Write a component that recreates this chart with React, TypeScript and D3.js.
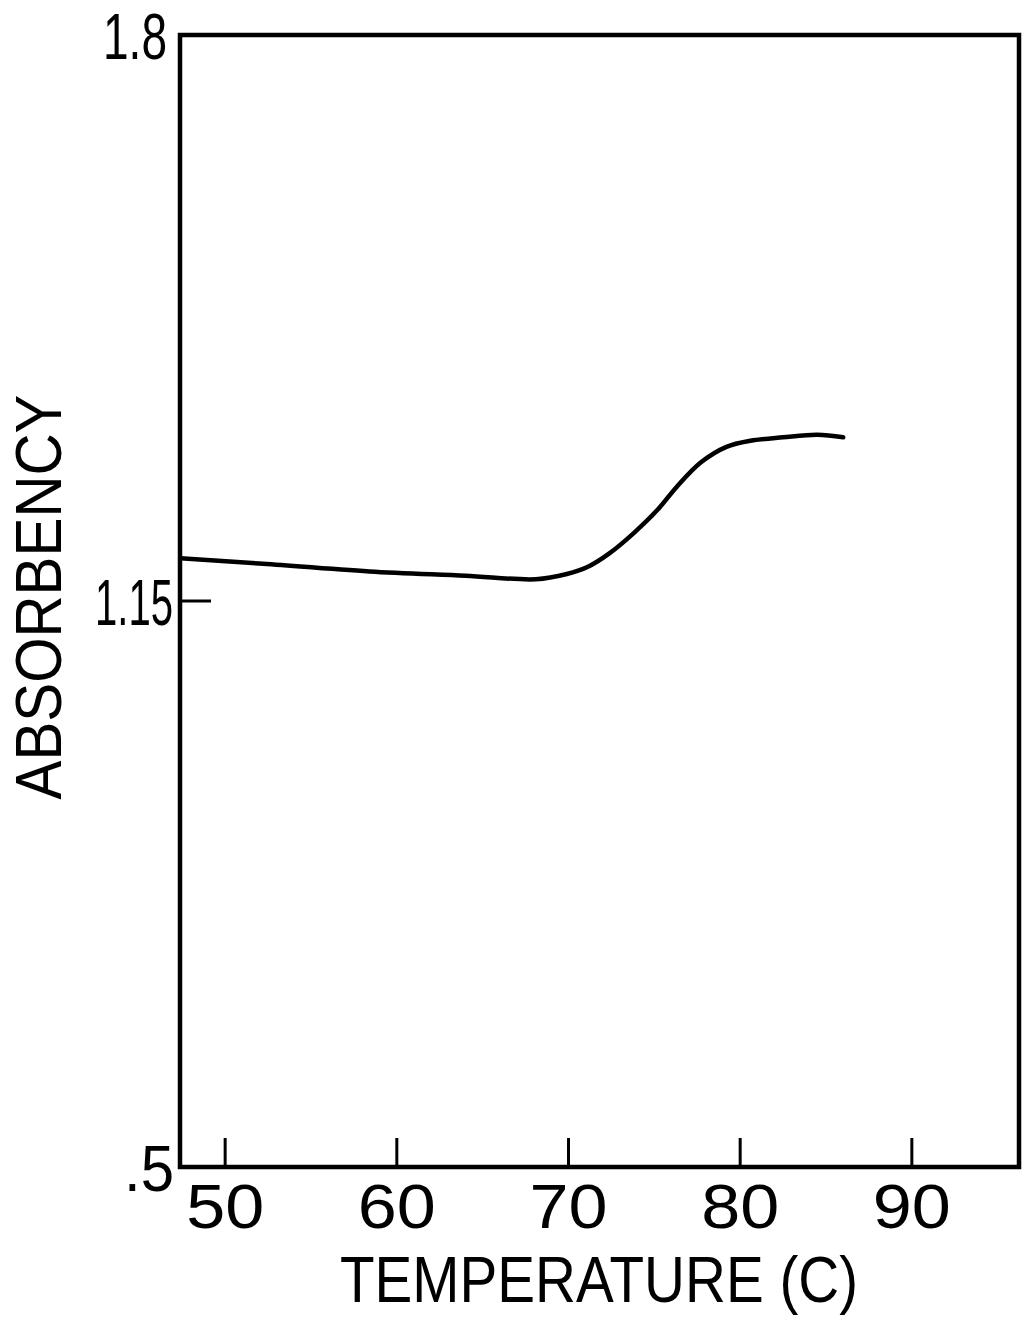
import React from "react";
import * as d3 from "d3";

// Absorbency vs temperature melting profile
const temperatures = [47.4, 52, 58.4, 64, 68.1, 69.9, 71.1, 72.4, 73.8, 75.2, 76.3, 77.7, 79.2, 80.6, 82.5, 84.5, 86.0];
const absorbency = [1.199, 1.193, 1.184, 1.179, 1.175, 1.181, 1.189, 1.205, 1.228, 1.255, 1.281, 1.309, 1.327, 1.334, 1.338, 1.341, 1.338];

const xTicks = [50, 60, 70, 80, 90];
const yTicks = [1.8, 1.15, 0.5];
const yTickLabels = ["1.8", "1.15", ".5"];

const xTitle = "TEMPERATURE (C)";
const yTitle = "ABSORBENCY";

const W = 1027;
const H = 1322;
const left = 180;
const right = 1019;
const top = 35;
const bottom = 1167;

const FONT = "'Liberation Sans', 'DejaVu Sans', Arial, sans-serif";

export default function App() {
  const x = d3.scaleLinear().domain([47.37, 96.3]).range([left, right + 1]);
  const y = d3.scaleLinear().domain([0.5, 1.8]).range([bottom, top]);

  const pts: [number, number][] = temperatures.map((t, i) => [t, absorbency[i]]);
  const line = d3
    .line<[number, number]>()
    .x((d) => x(d[0]))
    .y((d) => y(d[1]))
    .curve(d3.curveCatmullRom.alpha(0.5));

  const labelWidths: Record<string, number> = { "1.8": 64, "1.15": 78, ".5": 50 };
  const labelRight = [167, 173, 174];

  return (
    <svg
      width={W}
      height={H}
      viewBox={`0 0 ${W} ${H}`}
      style={{ position: "absolute", left: 0, top: 0, background: "#fff" }}
    >
      <rect x={0} y={0} width={W} height={H} fill="#fff" />
      {/* frame */}
      <rect
        x={left}
        y={top}
        width={right - left}
        height={bottom - top}
        fill="none"
        stroke="#000"
        strokeWidth={4.5}
      />
      {/* x ticks (inward) */}
      {xTicks.map((t) => (
        <g key={t}>
          <line x1={x(t)} x2={x(t)} y1={bottom} y2={bottom - 29} stroke="#000" strokeWidth={3} />
          <text
            x={x(t)}
            y={1228}
            textAnchor="middle"
            fontFamily={FONT}
            fontSize={63}
            textLength={78}
            lengthAdjust="spacingAndGlyphs"
          >
            {t}
          </text>
        </g>
      ))}
      {/* y ticks */}
      {yTicks.map((v, i) => (
        <g key={v}>
          {v > 0.5 && v < 1.8 && (
            <line x1={left} x2={left + 31} y1={y(v)} y2={y(v)} stroke="#000" strokeWidth={3} />
          )}
          <text
            x={labelRight[i]}
            y={y(v) + 24}
            textAnchor="end"
            fontFamily={FONT}
            fontSize={64}
            textLength={labelWidths[yTickLabels[i]]}
            lengthAdjust="spacingAndGlyphs"
          >
            {yTickLabels[i]}
          </text>
        </g>
      ))}
      {/* data curve */}
      <path d={line(pts) ?? ""} fill="none" stroke="#000" strokeWidth={4.5} strokeLinecap="round" />
      {/* axis titles */}
      <text
        x={599}
        y={1302}
        textAnchor="middle"
        fontFamily={FONT}
        fontSize={65}
        textLength={518}
        lengthAdjust="spacingAndGlyphs"
      >
        {xTitle}
      </text>
      <text
        transform="translate(61,597) rotate(-90)"
        textAnchor="middle"
        fontFamily={FONT}
        fontSize={64}
        textLength={405}
        lengthAdjust="spacingAndGlyphs"
      >
        {yTitle}
      </text>
    </svg>
  );
}
